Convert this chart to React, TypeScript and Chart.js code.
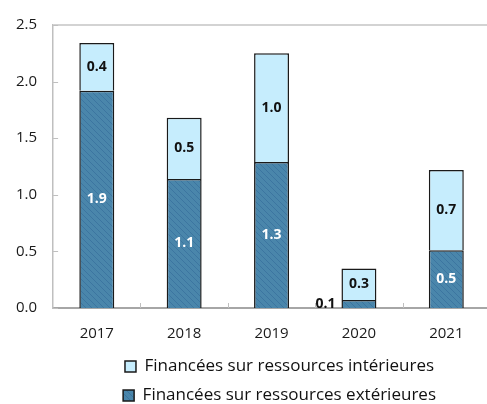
import React, { useEffect, useRef } from "react";
import { Chart, registerables } from "chart.js";

Chart.register(...registerables);

const years = ["2017", "2018", "2019", "2020", "2021"];
const exterieures = [1.92, 1.14, 1.29, 0.07, 0.51];
const interieures = [0.42, 0.54, 0.96, 0.28, 0.71];
const labelExt = "Financées sur ressources extérieures";
const labelInt = "Financées sur ressources intérieures";
const yTicks = [0, 0.5, 1.0, 1.5, 2.0, 2.5];

const FONT = "'Open Sans', 'Noto Sans', sans-serif";

function makeHatch(): CanvasPattern | string {
  const c = document.createElement("canvas");
  c.width = 6;
  c.height = 6;
  const g = c.getContext("2d");
  if (!g) return "#4a85aa";
  g.fillStyle = "#4a86ab";
  g.fillRect(0, 0, 6, 6);
  g.strokeStyle = "#3c75a0";
  g.lineWidth = 1;
  g.beginPath();
  for (const x0 of [-6, 0, 6]) {
    g.moveTo(x0, 0);
    g.lineTo(x0 + 6, 6);
  }
  g.stroke();
  const p = g.createPattern(c, "repeat");
  return p || "#4a85aa";
}

const valueLabels = {
  id: "valueLabels",
  afterDatasetsDraw(chart: any) {
    const ctx = chart.ctx;
    chart.data.datasets.forEach((ds: any, di: number) => {
      const meta = chart.getDatasetMeta(di);
      meta.data.forEach((bar: any, i: number) => {
        const v = ds.data[i] as number;
        const { x, y, base, width } = bar.getProps(["x", "y", "base", "width"], true);
        const h = Math.abs(base - y);
        const text = v.toFixed(1);
        ctx.save();
        ctx.font = `bold 14px ${FONT}`;
        ctx.textBaseline = "middle";
        if (h < 14) {
          ctx.textAlign = "right";
          ctx.fillStyle = "#111";
          ctx.fillText(text, x - width / 2 - 6, (y + base) / 2);
        } else {
          ctx.textAlign = "center";
          ctx.fillStyle = di === 0 ? "#ffffff" : "#111111";
          ctx.fillText(text, x, (y + base) / 2);
        }
        ctx.restore();
      });
    });
  },
};

const axisDecor = {
  id: "axisDecor",
  beforeDatasetsDraw(chart: any) {
    const { ctx, chartArea: a, scales } = chart;
    ctx.save();
    ctx.strokeStyle = "#d3d3d3";
    ctx.lineWidth = 2;
    ctx.beginPath();
    ctx.moveTo(a.left, a.top);
    ctx.lineTo(a.right, a.top);
    ctx.stroke();
    ctx.strokeStyle = "#bfbfbf";
    ctx.lineWidth = 1;
    ctx.beginPath();
    yTicks.forEach((t) => {
      const py = Math.round(scales.y.getPixelForValue(t)) + 0.5;
      ctx.moveTo(a.left, py);
      ctx.lineTo(a.left + 5, py);
    });
    for (let i = 1; i < years.length; i++) {
      const px = Math.round((scales.x.getPixelForValue(i - 1) + scales.x.getPixelForValue(i)) / 2) + 0.5;
      ctx.moveTo(px, a.bottom);
      ctx.lineTo(px, a.bottom - 5);
    }
    ctx.stroke();
    ctx.restore();
  },
  afterLayout(chart: any) {
    if (chart.legend) {
      chart.legend.left += 8;
      chart.legend.right += 8;
      chart.legend.top -= 14;
      chart.legend.bottom -= 14;
    }
  },
};

export default function App() {
  const ref = useRef<HTMLCanvasElement | null>(null);
  useEffect(() => {
    if (!ref.current) return;
    Chart.defaults.font.family = FONT;
    const hatch = makeHatch();
    const chart = new Chart(ref.current, {
      type: "bar",
      data: {
        labels: years,
        datasets: [
          {
            label: labelExt,
            data: exterieures,
            backgroundColor: hatch as any,
            borderColor: "#1a1a1a",
            borderWidth: 1.5,
            barPercentage: 0.4,
            categoryPercentage: 1,
          },
          {
            label: labelInt,
            data: interieures,
            backgroundColor: "#c6edfd",
            borderColor: "#1a1a1a",
            borderWidth: 1.5,
            barPercentage: 0.4,
            categoryPercentage: 1,
          },
        ],
      },
      options: {
        responsive: false,
        animation: false,
        layout: { padding: { left: 0, top: 1, right: 0, bottom: 0 } },
        scales: {
          x: {
            stacked: true,
            grid: { display: false, drawTicks: false },
            border: { display: true, color: "#a6a6a6", width: 2 },
            ticks: { color: "#1a1a1a", font: { size: 15, family: FONT }, padding: 17 },
          },
          y: {
            stacked: true,
            min: 0,
            max: 2.5,
            grid: { display: false, drawTicks: false },
            border: { display: true, color: "#bfbfbf", width: 1.5 },
            ticks: {
              stepSize: 0.5,
              color: "#1a1a1a",
              font: { size: 15, family: FONT },
              padding: 16,
              callback: (v: any) => Number(v).toFixed(1),
            },
          },
        },
        plugins: {
          tooltip: { enabled: false },
          legend: {
            position: "bottom",
            reverse: true,
            fullSize: false,
            labels: {
              boxWidth: 11,
              boxHeight: 11,
              padding: 12,
              color: "#111",
              font: { size: 17, family: FONT },
            },
          },
        },
      },
      plugins: [valueLabels, axisDecor],
    });
    return () => chart.destroy();
  }, []);
  return (
    <div
      style={{
        position: "fixed",
        left: 0,
        top: 0,
        width: 487,
        height: 404,
        overflow: "hidden",
        background: "#fff",
      }}
    >
      <canvas ref={ref} width={490} height={428} style={{ display: "block" }} />
    </div>
  );
}
